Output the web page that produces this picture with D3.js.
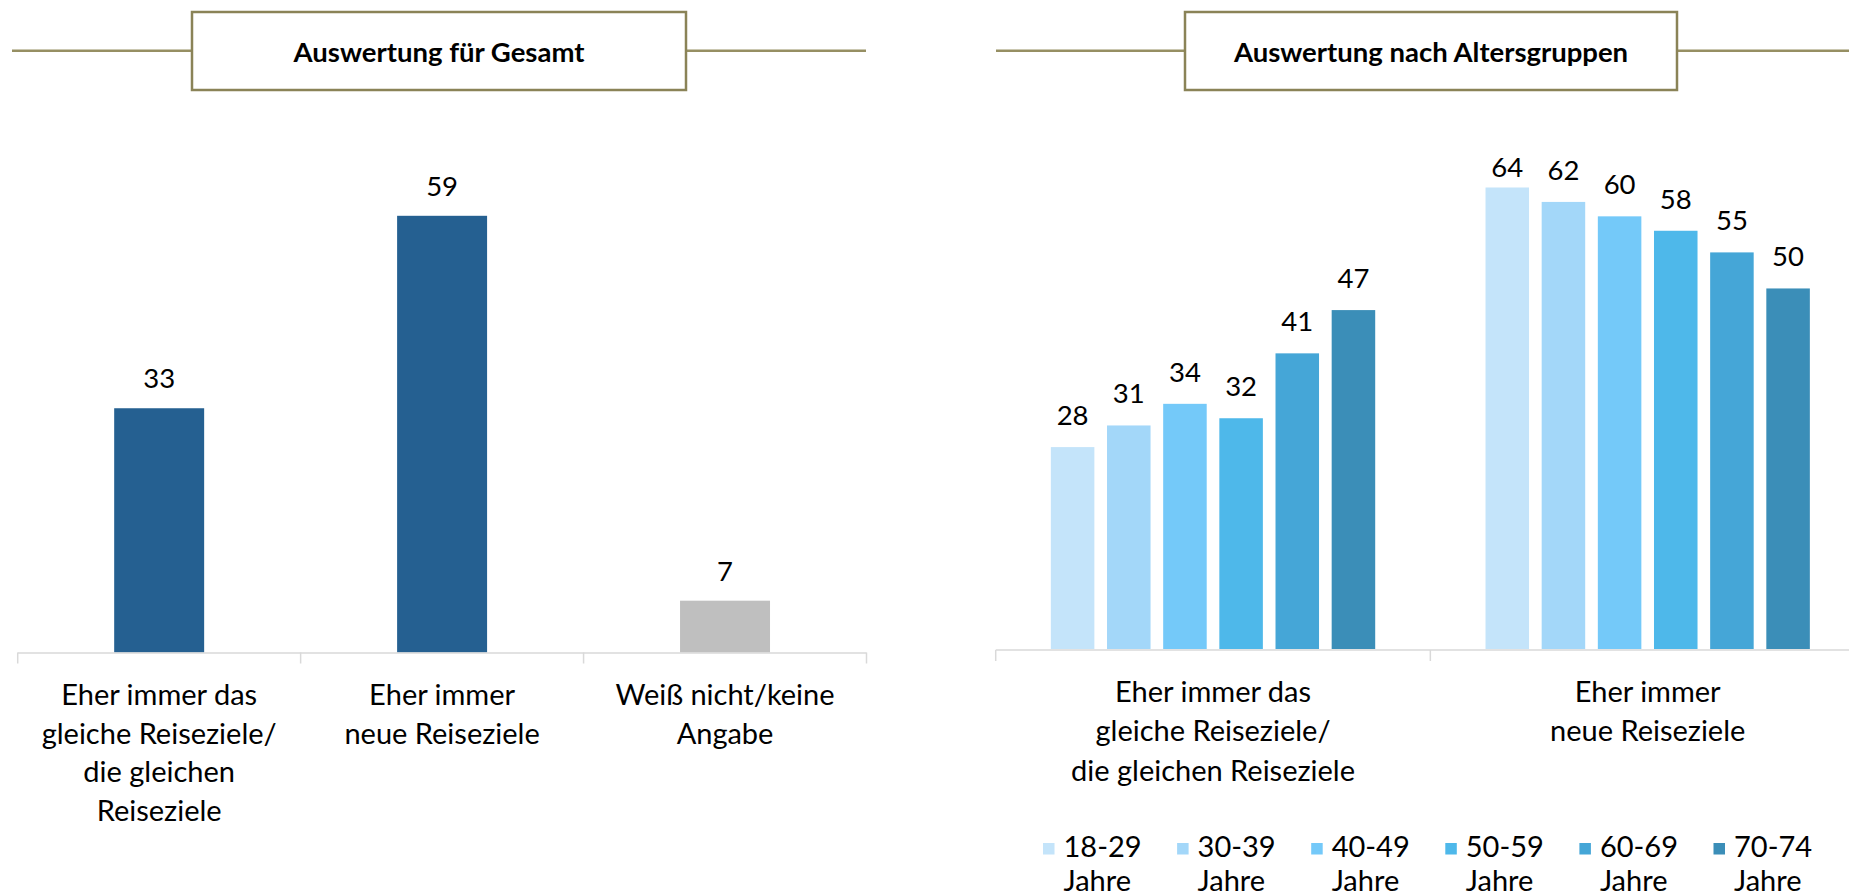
<!DOCTYPE html>
<html><head><meta charset="utf-8">
<script src="https://cdn.jsdelivr.net/npm/d3@7"></script>
<style>
body{margin:0;background:#fff}
svg{display:block}
text{font-family:Lato,"Open Sans",sans-serif;fill:#000}
</style>
</head><body>
<svg id="c" width="1849" height="896"></svg>
<script>
// ---------- data ----------
const titles = ["Auswertung für Gesamt", "Auswertung nach Altersgruppen"];
const totalCategories = [
  ["Eher immer das", "gleiche Reiseziele/", "die gleichen", "Reiseziele"],
  ["Eher immer", "neue Reiseziele"],
  ["Weiß nicht/keine", "Angabe"]
];
const totalValues = [33, 59, 7];
const totalColors = ["#256091", "#256091", "#BFBFBF"];

const groupCategories = [
  ["Eher immer das", "gleiche Reiseziele/", "die gleichen Reiseziele"],
  ["Eher immer", "neue Reiseziele"]
];
const ageGroups = ["18-29", "30-39", "40-49", "50-59", "60-69", "70-74"];
const ageSuffix = "Jahre";
const valuesGleiche = [28, 31, 34, 32, 41, 47];
const valuesNeue = [64, 62, 60, 58, 55, 50];
const ageColors = ["#C4E4FA", "#A3D7F9", "#74C9F9", "#4EB8EA", "#45A6D7", "#3B8EB8"];

// ---------- drawing ----------
const svg = d3.select("#c");
const headerColor = "#968F63";
const boxColor = "#8A8357";
const axisColor = "#D9D9D9";

function header(x0, x1, bx0, bx1, title) {
  const g = svg.append("g");
  g.append("line").attr("x1", x0).attr("x2", bx0).attr("y1", 50.7).attr("y2", 50.7)
    .attr("stroke", headerColor).attr("stroke-width", 2.5);
  g.append("line").attr("x1", bx1).attr("x2", x1).attr("y1", 50.7).attr("y2", 50.7)
    .attr("stroke", headerColor).attr("stroke-width", 2.5);
  g.append("rect").attr("x", bx0).attr("y", 12).attr("width", bx1 - bx0).attr("height", 78)
    .attr("fill", "#fff").attr("stroke", boxColor).attr("stroke-width", 2.5);
  g.append("text").attr("x", (bx0 + bx1) / 2).attr("y", 62).attr("text-anchor", "middle")
    .attr("font-weight", "bold").attr("font-size", 27.5).text(title);
}
header(12, 866, 192, 686, titles[0]);
header(996, 1849, 1185, 1677, titles[1]);

// ---- left chart ----
const xL = d3.scaleBand().domain(d3.range(totalValues.length)).range([17.7, 866.5]).padding(0);
const yL = d3.scaleLinear().domain([0, 59]).range([652.5, 215.8]);
const barRatioL = 0.318;
const gL = svg.append("g");
gL.selectAll("rect.bar").data(totalValues).join("rect")
  .attr("class", "bar")
  .attr("x", (d, i) => xL(i) + xL.bandwidth() * (1 - barRatioL) / 2)
  .attr("width", xL.bandwidth() * barRatioL)
  .attr("y", d => yL(d))
  .attr("height", d => yL(0) - yL(d))
  .attr("fill", (d, i) => totalColors[i]);
gL.selectAll("text.val").data(totalValues).join("text")
  .attr("class", "val")
  .attr("x", (d, i) => xL(i) + xL.bandwidth() / 2)
  .attr("y", d => yL(d) - 20)
  .attr("text-anchor", "middle").attr("font-size", 27.5)
  .text(d => d);
// axis
const axL = gL.append("g");
axL.append("line").attr("x1", xL.range()[0]).attr("x2", xL.range()[1])
  .attr("y1", yL(0) + 0.5).attr("y2", yL(0) + 0.5).attr("stroke", axisColor).attr("stroke-width", 1.5);
const ticksL = xL.domain().map(i => xL(i)).concat([xL.range()[1]]);
axL.selectAll("line.t").data(ticksL).join("line").attr("class", "t")
  .attr("x1", d => d).attr("x2", d => d).attr("y1", yL(0)).attr("y2", yL(0) + 11)
  .attr("stroke", axisColor).attr("stroke-width", 1.5);
totalCategories.forEach((lines, i) => {
  const t = gL.append("text").attr("text-anchor", "middle").attr("font-size", 29);
  lines.forEach((l, k) => {
    t.append("tspan").attr("x", xL(i) + xL.bandwidth() / 2).attr("y", 705 + k * 38.6).text(l);
  });
});

// ---- right chart ----
const series = [valuesGleiche, valuesNeue];
const xR = d3.scaleBand().domain(d3.range(series.length)).range([995.7, 1865.0]).padding(0);
const xA = d3.scaleBand().domain(ageGroups).range([0, xR.bandwidth()]).paddingInner(0.225).paddingOuter(0.982);
const yR = d3.scaleLinear().domain([0, 64]).range([649, 187.5]);
const gR = svg.append("g");
series.forEach((vals, gi) => {
  const g = gR.append("g").attr("transform", `translate(${xR(gi)},0)`);
  g.selectAll("rect").data(vals).join("rect")
    .attr("x", (d, i) => xA(ageGroups[i]))
    .attr("width", xA.bandwidth())
    .attr("y", d => yR(d))
    .attr("height", d => yR(0) - yR(d))
    .attr("fill", (d, i) => ageColors[i]);
  g.selectAll("text").data(vals).join("text")
    .attr("x", (d, i) => xA(ageGroups[i]) + xA.bandwidth() / 2)
    .attr("y", d => Math.max(yR(d) - 22, 176.5))
    .attr("text-anchor", "middle").attr("font-size", 27.5)
    .text(d => d);
});
const axR = gR.append("g");
axR.append("line").attr("x1", xR.range()[0]).attr("x2", xR.range()[1])
  .attr("y1", yR(0) + 1).attr("y2", yR(0) + 1).attr("stroke", axisColor).attr("stroke-width", 1.5);
const ticksR = xR.domain().map(i => xR(i)).concat([xR.range()[1]]);
axR.selectAll("line.t").data(ticksR).join("line").attr("class", "t")
  .attr("x1", d => d).attr("x2", d => d).attr("y1", yR(0) + 1).attr("y2", yR(0) + 12)
  .attr("stroke", axisColor).attr("stroke-width", 1.5);
groupCategories.forEach((lines, i) => {
  const t = gR.append("text").attr("text-anchor", "middle").attr("font-size", 29);
  lines.forEach((l, k) => {
    t.append("tspan").attr("x", xR(i) + xR.bandwidth() / 2).attr("y", 702 + k * 39.3).text(l);
  });
});

// legend
const legX = d3.scaleBand().domain(ageGroups).range([1043, 1043 + 134.1 * ageGroups.length]).padding(0);
const leg = gR.append("g");
const items = leg.selectAll("g").data(ageGroups).join("g")
  .attr("transform", d => `translate(${legX(d)},0)`);
items.append("rect").attr("x", 0).attr("y", 843).attr("width", 11.5).attr("height", 11.5)
  .attr("fill", (d, i) => ageColors[i]);
items.append("text").attr("x", 20.5).attr("y", 856.5).attr("font-size", 29).text(d => d);
items.append("text").attr("x", 20.5).attr("y", 891).attr("font-size", 29).text(ageSuffix);
</script>
</body></html>
